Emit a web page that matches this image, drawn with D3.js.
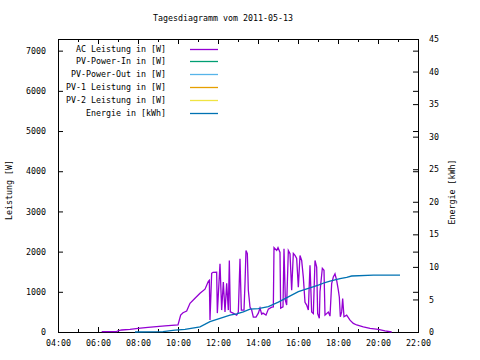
<!DOCTYPE html>
<html><head><meta charset="utf-8">
<script src="https://cdn.jsdelivr.net/npm/d3@7"></script>
<style>
body{margin:0;background:#fff;}
svg text{font-family:"DejaVu Sans Mono","Liberation Mono",monospace;font-size:8.3px;fill:#000;}
</style></head><body>
<svg id="c" width="480" height="360"></svg>
<script>
const titleText = "Tagesdiagramm vom 2011-05-13";
const dayStr = "2011-05-13";
const acTimes = ["06:11","06:56","07:00","07:11","07:36","08:00","08:30","09:21","10:00","10:08","10:15","10:26","10:36","10:51","11:06","11:21","11:31","11:34","11:36","11:41","11:45","11:56","11:58","12:06","12:11","12:16","12:21","12:26","12:31","12:34","12:37","12:45","12:56","13:01","13:06","13:10","13:18","13:21","13:24","13:28","13:31","13:33","13:36","13:41","13:46","13:54","14:01","14:06","14:11","14:15","14:24","14:31","14:41","14:46","14:48","14:56","15:00","15:06","15:08","15:15","15:18","15:22","15:26","15:31","15:36","15:41","15:46","15:51","15:56","16:01","16:06","16:11","16:16","16:21","16:26","16:31","16:36","16:41","16:46","16:51","16:56","16:59","17:04","17:06","17:13","17:18","17:21","17:31","17:36","17:41","17:46","17:51","17:56","18:01","18:04","18:07","18:11","18:14","18:18","18:26","18:36","18:46","18:56","19:16","19:36","20:01","20:21","20:41"];
const acPower = [10,10,30,50,65,90,115,150,175,420,480,520,715,840,965,1065,1260,1285,300,1460,1485,1490,470,1700,545,1245,500,1210,545,1780,500,470,420,495,1820,545,545,1210,2030,1950,1040,870,620,545,370,370,470,595,445,470,420,570,620,625,2100,2030,2100,1980,595,625,2070,790,670,2030,1950,1040,1955,1905,1830,1115,1905,1780,1360,740,670,545,1660,500,460,1780,1615,460,340,1000,1585,1535,420,495,395,1205,1370,1450,1285,1040,865,380,500,835,380,420,295,215,175,130,90,65,30,0];
const energyTimes = ["07:51","09:15","09:51","10:21","11:06","11:36","12:06","12:36","12:56","13:16","13:36","14:01","14:31","15:01","15:31","16:01","16:31","17:01","17:21","17:36","18:06","18:26","18:41","19:46","21:06"];
const energyKWh = [0,0.05,0.3,0.4,0.8,1.6,2.1,2.6,2.8,3.1,3.5,3.6,3.9,4.6,5.4,6.2,6.7,7.2,7.6,7.8,8.2,8.4,8.6,8.75,8.75];
const legendLabels = ["AC Leistung in [W]","PV-Power-In in [W]","PV-Power-Out in [W]","PV-1 Leistung in [W]","PV-2 Leistung in [W]","Energie in [kWh]"];
const legendColors = ["#9400d3","#009e73","#56b4e9","#e69f00","#f0e442","#0072b2"];
const yTicks = [0,1000,2000,3000,4000,5000,6000,7000];
const y2Ticks = [0,5,10,15,20,25,30,35,40,45];
const xStart = "04:00", xEnd = "22:00";
const yLabel = "Leistung [W]", y2Label = "Energie [kWh]";

const parse = d3.timeParse("%Y-%m-%d %H:%M");
const T = s => parse(dayStr + " " + s);
const L = 58, R = 418, TOP = 39, B = 332;
const svg = d3.select("#c");

const x = d3.scaleTime().domain([T(xStart), T(xEnd)]).range([L, R]);
const y = d3.scaleLinear().domain([0, 7290]).range([B, TOP]);
const y2 = d3.scaleLinear().domain([0, 45]).range([B, TOP]);

// title
svg.append("text").attr("x", 223).attr("y", 21).attr("text-anchor", "middle").text(titleText);

// axes
const majorT = d3.timeHour.every(2).range(T(xStart), d3.timeMinute.offset(T(xEnd), 1));
const minorT = d3.timeHour.every(1).range(T(xStart), d3.timeMinute.offset(T(xEnd), 1));
svg.append("g").attr("transform", `translate(0,${B})`)
  .call(d3.axisBottom(x).tickValues(minorT).tickSizeInner(-3).tickSizeOuter(0).tickFormat(""));
svg.append("g").attr("transform", `translate(0,${B})`)
  .call(d3.axisBottom(x).tickValues(majorT).tickSizeInner(-5).tickSizeOuter(0).tickPadding(8).tickFormat(d3.timeFormat("%H:%M")));
svg.append("g").attr("transform", `translate(0,${TOP})`)
  .call(d3.axisTop(x).tickValues(minorT).tickSizeInner(-3).tickSizeOuter(0).tickFormat(""));
svg.append("g").attr("transform", `translate(0,${TOP})`)
  .call(d3.axisTop(x).tickValues(majorT).tickSizeInner(-5).tickSizeOuter(0).tickFormat(""));
svg.append("g").attr("transform", `translate(${L},0)`)
  .call(d3.axisLeft(y).tickValues(yTicks).tickSizeInner(-5).tickSizeOuter(0).tickPadding(12).tickFormat(d3.format("d")));
svg.append("g").attr("transform", `translate(${R},0)`)
  .call(d3.axisRight(y).tickValues(yTicks).tickSizeInner(-5).tickSizeOuter(0).tickFormat(""));
svg.append("g").attr("transform", `translate(${R},0)`)
  .call(d3.axisRight(y2).tickValues(y2Ticks).tickSizeInner(-5).tickSizeOuter(0).tickPadding(11).tickFormat(d3.format("d")));
svg.selectAll(".domain").remove();
svg.selectAll(".tick line").attr("stroke", "#000");
svg.selectAll(".tick text").attr("font-family", null).attr("font-size", null);

// border
svg.append("rect").attr("x", L + 0.5).attr("y", TOP + 0.5).attr("width", R - L).attr("height", B - TOP)
  .attr("fill", "none").attr("stroke", "#000").attr("stroke-width", 1);

// axis labels
svg.append("text").attr("transform", `translate(12,190) rotate(-90)`).attr("text-anchor", "middle").text(yLabel);
svg.append("text").attr("transform", `translate(455,192) rotate(-90)`).attr("text-anchor", "middle").text(y2Label);

// lines
const acData = acTimes.map((t, i) => ({t: T(t), v: acPower[i]}));
const enData = energyTimes.map((t, i) => ({t: T(t), v: energyKWh[i]}));
svg.append("path").datum(acData).attr("fill", "none").attr("stroke", legendColors[0]).attr("stroke-width", 1.3)
  .attr("d", d3.line().x(d => x(d.t)).y(d => y(d.v)));
svg.append("path").datum(enData).attr("fill", "none").attr("stroke", legendColors[5]).attr("stroke-width", 1.3)
  .attr("d", d3.line().x(d => x(d.t)).y(d => y2(d.v)));

// legend
const lg = svg.append("g");
legendLabels.forEach((lab, i) => {
  const yy = 48.5 + i * 12.9;
  lg.append("text").attr("x", 166).attr("y", yy + 3).attr("text-anchor", "end").text(lab);
  lg.append("line").attr("x1", 190).attr("x2", 218).attr("y1", Math.round(yy) + 0.5).attr("y2", Math.round(yy) + 0.5)
    .attr("stroke", legendColors[i]).attr("stroke-width", 1.3);
});
</script>
</body></html>
